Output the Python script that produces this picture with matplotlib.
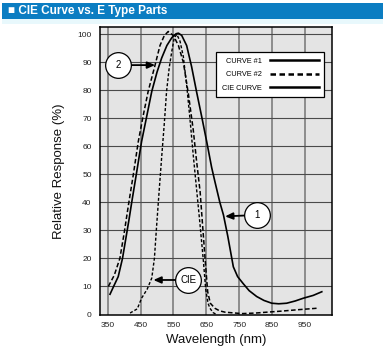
import matplotlib.pyplot as plt
from matplotlib.lines import Line2D
from matplotlib.patches import Rectangle

# wavelength (nm) / relative response (%)
curve1_wl = [357, 368, 382, 395, 405, 415, 423, 437, 453, 470, 484, 500, 514, 530, 545,
             558, 565, 575, 590, 605, 620, 636, 651, 666, 676, 691, 702, 715, 732, 745,
             762, 780, 803, 825, 849, 870, 894, 920, 945, 975, 1001]
curve1_y = [7.2, 10, 13.5, 20, 27, 34, 40, 50, 61.7, 71.5, 79.6, 86.5, 91.5, 96, 98.8,
            100.2, 100.4, 99.6, 96, 88.5, 79.6, 70.5, 61.7, 52.5, 47.4, 40, 35.5, 28, 17, 13.5,
            11, 8.5, 6.4, 5, 4, 3.8, 4, 4.8, 5.8, 6.8, 8.1]

curve2_wl = [352, 370, 387, 400, 413, 428, 443, 458, 473, 494, 509, 522, 534, 550, 565,
             580, 595, 610, 620, 631, 646, 654, 662, 676, 690, 707, 758, 800, 833, 880,
             930, 985]
curve2_y = [10, 14, 20, 29, 39, 50, 61.7, 71, 79.6, 89, 96, 99.5, 101, 99.5, 96,
            90, 79, 66, 55, 43.8, 20, 8.1, 4, 2.2, 1.3, 0.8, 0.3, 0.5, 0.8, 1.2,
            1.7, 2.2]

cie_wl = [418, 440, 453, 470, 484, 492, 499, 507, 514, 522, 529, 537, 545, 552, 560,
          570, 580, 590, 600, 610, 620, 630, 641, 648, 655, 661, 670, 680]
cie_y = [0.5, 2, 5.8, 9, 13, 20, 32, 45, 56, 68, 79.6, 88, 94, 98.5, 100,
         97.5, 92, 82, 70, 57, 45, 33, 19, 9, 4, 2.2, 0.7, 0]

x_ticks = [350, 450, 550, 650, 750, 850, 950]
y_ticks = [0, 10, 20, 30, 40, 50, 60, 70, 80, 90, 100]
legend_labels = ["CURVE #1", "CURVE #2", "CIE CURVE"]

# callouts: label, circle centre, arrow tip
callouts = [("2", (382, 89), (494, 89)),
            ("1", (803, 35.5), (707, 35)),
            ("CIE", (595, 12.3), (489, 12.3))]

plt.rcParams['font.family'] = ['Liberation Sans', 'DejaVu Sans']

fig = plt.figure(figsize=(3.85, 3.52), dpi=100)
W, H = 385, 352

# blue title band
fig.patches.append(Rectangle((2 / W, 1 - 19 / H), 381 / W, 16 / H, transform=fig.transFigure,
                             facecolor='#0b7dc2', edgecolor='none'))
fig.patches.append(Rectangle((2 / W, 1 - 24 / H), 381 / W, 5 / H, transform=fig.transFigure,
                             facecolor='#e8f8fc', edgecolor='none'))
fig.text(8 / W, 1 - 11 / H, "\u25A0 CIE Curve vs. E Type Parts", color='white',
         fontsize=8.5, fontweight='bold', va='center', ha='left')

ax = fig.add_axes([100 / W, 1 - 315 / H, 232 / W, 288 / H])
ax.set_facecolor('#e4e4e4')

for x in x_ticks:
    ax.axvline(x, color='#8c8c8c', lw=1.4, zorder=1)
for y in y_ticks[1:]:
    ax.axhline(y, color='#4a4a4a', lw=0.8, zorder=1)

ax.plot(curve1_wl, curve1_y, color='black', lw=1.2, zorder=3)
ax.plot(curve2_wl, curve2_y, color='black', lw=1.1, linestyle=(0, (3, 1.6)), zorder=3)
ax.plot(cie_wl, cie_y, color='black', lw=1.0, linestyle=(0, (2.2, 1.4)), zorder=3)

for label, (cx, cy), (tx, ty) in callouts:
    ax.annotate("", xy=(tx, ty), xytext=(cx, cy),
                arrowprops=dict(arrowstyle='-|>,head_length=0.45,head_width=0.2',
                                color='black', lw=1.3, shrinkA=9, shrinkB=0), zorder=4)
    ax.plot(cx, cy, 'o', ms=18.5, mfc='white', mec='black', mew=0.9, zorder=5)
    ax.text(cx, cy, label, ha='center', va='center', fontsize=7, zorder=6)

ax.set_xlim(326.6, 1032)
ax.set_ylim(-0.2, 102.6)
ax.set_xticks(x_ticks)
ax.set_yticks(y_ticks)
ax.tick_params(length=0, labelsize=6, colors='#222222')
ax.tick_params(axis='y', pad=6)
ax.tick_params(axis='x', pad=5)
for s in ax.spines.values():
    s.set_color('black')
    s.set_linewidth(1.1)

ax.set_xlabel("Wavelength (nm)", fontsize=9.5, color='#111111', labelpad=4)
ax.set_ylabel("Relative Response (%)", fontsize=9.5, color='#111111', labelpad=9)

handles = [Line2D([], [], color='black', lw=1.8),
           Line2D([], [], color='black', lw=1.8, linestyle=(0, (2.2, 1.4))),
           Line2D([], [], color='black', lw=1.8)]
leg = ax.legend(handles, legend_labels, loc='upper right', bbox_to_anchor=(0.967, 0.912),
                markerfirst=False, frameon=True, fancybox=False, framealpha=1,
                edgecolor='black', handlelength=6.6, handletextpad=1.2, borderpad=0.75,
                labelspacing=0.85, borderaxespad=0, prop={'size': 5.3})
leg.get_frame().set_linewidth(0.9)
leg.set_zorder(7)

fig.savefig("out.png", dpi=100)
